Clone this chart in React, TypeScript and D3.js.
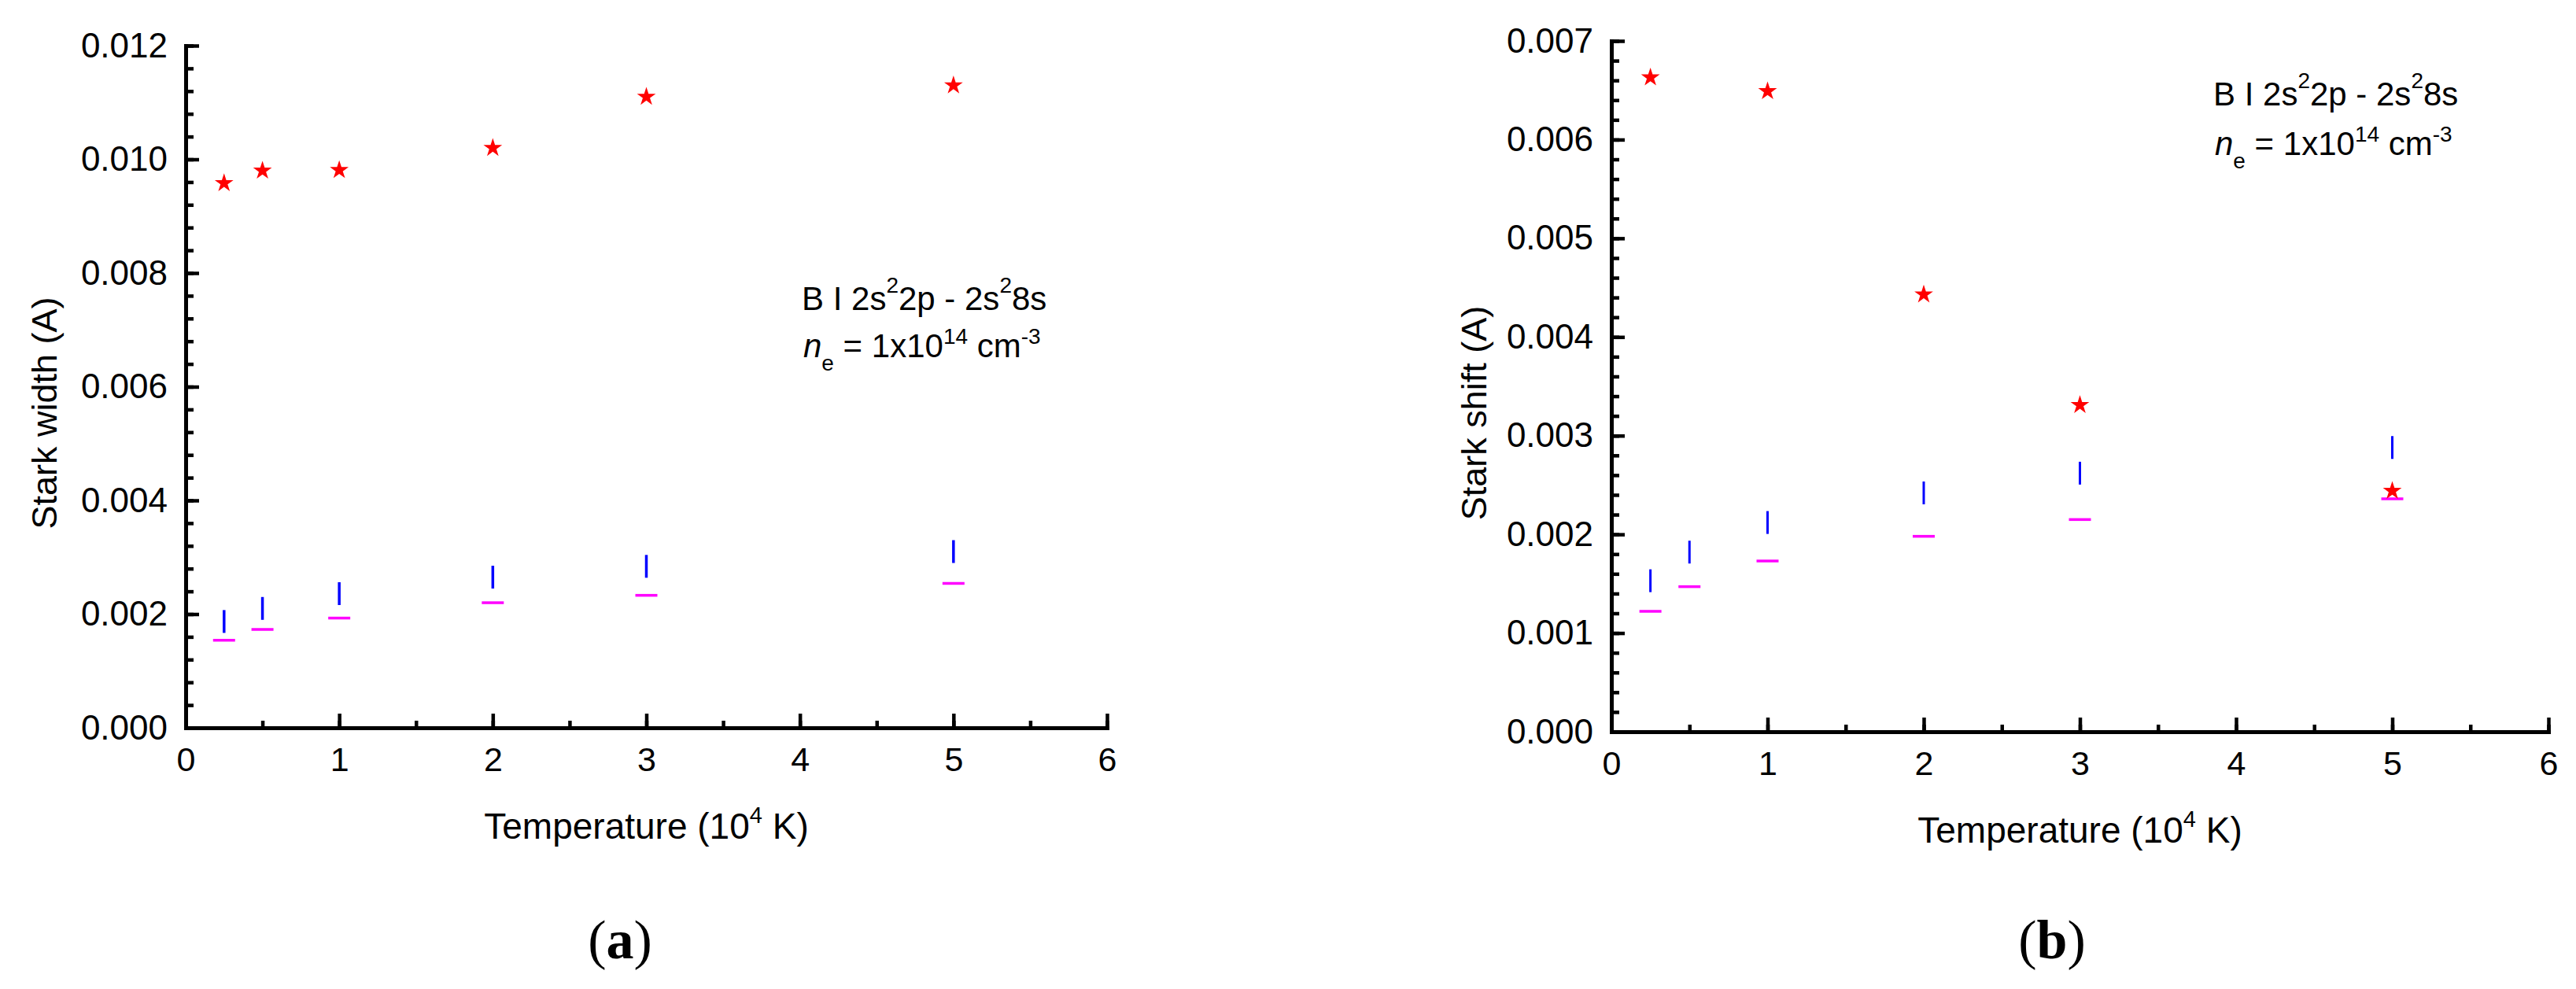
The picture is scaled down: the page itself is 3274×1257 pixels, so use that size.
import React, { useEffect, useRef } from 'react'
import * as d3 from 'd3'

// temperatures in 10^4 K
const temps = [0.25, 0.5, 1, 2, 3, 5]

// (a) Stark width (A)
const widthStars = [0.00958, 0.0098, 0.00981, 0.0102, 0.0111, 0.0113]
const widthBlue = [0.00187, 0.0021, 0.00236, 0.00265, 0.00284, 0.0031]
const widthMagenta = [0.00154, 0.00173, 0.00193, 0.0022, 0.00233, 0.00254]

// (b) Stark shift (A)
const shiftStarTemps = [0.25, 1, 2, 3, 5]
const shiftStars = [0.00663, 0.00649, 0.00443, 0.00331, 0.00244]
const shiftBlue = [0.00153, 0.00182, 0.00212, 0.00242, 0.00262, 0.00288]
const shiftMagenta = [0.00122, 0.00147, 0.00173, 0.00198, 0.00215, 0.00236]

const xTicks = [0, 1, 2, 3, 4, 5, 6]
const yTicksWidth = [0, 0.002, 0.004, 0.006, 0.008, 0.010, 0.012]
const yTicksShift = [0, 0.001, 0.002, 0.003, 0.004, 0.005, 0.006, 0.007]

const SANS = "'Liberation Sans', Arial, sans-serif"
const SERIF = "'Liberation Serif', 'Times New Roman', serif"

export default function App() {
    const svgRef = useRef<SVGSVGElement>(null)

    useEffect(() => {
        const svg = d3.select(svgRef.current)
        svg.selectAll("*").remove()

        const drawPanel = function (p: any) {
            const x = d3.scaleLinear().domain([0, 6]).range(p.xRange)
            const y = d3.scaleLinear().domain([0, p.yMax]).range(p.yRange)
            const g = svg.append("g")

            const x0 = p.xRange[0], yBase = p.yRange[0]

            // minor ticks
            const yMinor = d3.range(0, p.yMax + p.yMinorStep / 2, p.yMinorStep)
            const xMinor = d3.range(0, 6.01, 0.5)
            g.append("g").attr("transform", `translate(${x0},0)`)
                .call(d3.axisLeft(y).tickValues(yMinor).tickSize(-10).tickSizeOuter(0).tickFormat(() => ""))
                .call(a => a.select(".domain").remove())
                .selectAll("line").attr("stroke-width", 4.5)
            g.append("g").attr("transform", `translate(0,${yBase})`)
                .call(d3.axisBottom(x).tickValues(xMinor).tickSize(-9).tickSizeOuter(0).tickFormat(() => ""))
                .call(a => a.select(".domain").remove())
                .selectAll("line").attr("stroke-width", 4.5)

            // major ticks + labels
            const yAx = g.append("g").attr("transform", `translate(${x0},0)`)
                .call(d3.axisLeft(y).tickValues(p.yTicks).tickSize(-17).tickSizeOuter(0).tickPadding(23).tickFormat(d3.format(".3f")))
            yAx.selectAll("line").attr("stroke-width", 4.5)
            yAx.select(".domain").attr("stroke-width", 5).attr("stroke-linecap", "square")
            yAx.selectAll("text").style("font", `44px ${SANS}`).attr("fill", "black")

            const xAx = g.append("g").attr("transform", `translate(0,${yBase})`)
                .call(d3.axisBottom(x).tickValues(xTicks).tickSize(-18).tickSizeOuter(0).tickPadding(24).tickFormat(d3.format("d")))
            xAx.selectAll("line").attr("stroke-width", 4.5)
            xAx.select(".domain").attr("stroke-width", 5).attr("stroke-linecap", "square")
            xAx.selectAll("text").style("font", `43px ${SANS}`).attr("fill", "black")

            // markers
            g.selectAll(".mag").data(temps).enter().append("line")
                .attr("x1", d => x(d) - 14).attr("x2", d => x(d) + 14)
                .attr("y1", (d, i) => y(p.magenta[i])).attr("y2", (d, i) => y(p.magenta[i]))
                .attr("stroke", "#ff00ff").attr("stroke-width", 3.5)
            g.selectAll(".blue").data(temps).enter().append("line")
                .attr("x1", d => x(d)).attr("x2", d => x(d))
                .attr("y1", (d, i) => y(p.blue[i]) - 14.5).attr("y2", (d, i) => y(p.blue[i]) + 14.5)
                .attr("stroke", "#0000ff").attr("stroke-width", p.blueWidth)
            const star = d3.symbol().type(d3.symbolStar).size(175)
            g.selectAll(".star").data(p.starTemps).enter().append("path")
                .attr("d", star)
                .attr("transform", (d: any, i: number) => `translate(${x(d)},${y(p.stars[i])})`)
                .attr("fill", "#ff0000")

            // axis titles
            const xt = g.append("text").attr("x", (p.xRange[0] + p.xRange[1]) / 2).attr("y", p.xTitleY)
                .attr("text-anchor", "middle").style("font", `46px ${SANS}`)
            xt.append("tspan").text("Temperature (10")
            xt.append("tspan").attr("dy", -20).style("font-size", "29px").text("4")
            xt.append("tspan").attr("dy", 20).text(" K)")

            g.append("text").attr("transform", `translate(${p.yTitleX},525) rotate(-90)`)
                .attr("text-anchor", "middle").style("font", `45px ${SANS}`).text(p.yTitle)

            // annotation
            const l1 = g.append("text").attr("x", p.noteX).attr("y", p.noteY).style("font", `42px ${SANS}`)
            l1.append("tspan").text("B I 2s")
            l1.append("tspan").attr("dy", -22).style("font-size", "28px").text("2")
            l1.append("tspan").attr("dy", 22).text("2p - 2s")
            l1.append("tspan").attr("dy", -22).style("font-size", "28px").text("2")
            l1.append("tspan").attr("dy", 22).text("8s")

            const l2 = g.append("text").attr("x", p.noteX + 2).attr("y", p.noteY + p.noteGap).style("font", `42px ${SANS}`)
            l2.append("tspan").style("font-style", "italic").text("n")
            l2.append("tspan").attr("dy", 17).style("font-size", "28px").text("e")
            l2.append("tspan").attr("dy", -17).text(" = 1x10")
            l2.append("tspan").attr("dy", -17).style("font-size", "28px").text("14")
            l2.append("tspan").attr("dy", 17).text(" cm")
            l2.append("tspan").attr("dy", -17).style("font-size", "28px").text("-3")

            // panel label
            const lab = g.append("text").attr("x", p.labelX).attr("y", 1218)
                .attr("text-anchor", "middle").style("font", `70px ${SERIF}`)
            lab.append("tspan").text("(")
            lab.append("tspan").style("font-weight", "bold").text(p.label)
            lab.append("tspan").text(")")
        }

        drawPanel({
            xRange: [236, 1407], yRange: [925, 58], yMax: 0.012, yTicks: yTicksWidth, yMinorStep: 0.0004,
            stars: widthStars, starTemps: temps, blue: widthBlue, magenta: widthMagenta, blueWidth: 3.5,
            xTitleY: 1066, yTitleX: 72, yTitle: "Stark width (A)",
            noteX: 1019, noteY: 394, noteGap: 60, labelX: 788, label: "a"
        })
        drawPanel({
            xRange: [2048, 3239], yRange: [930, 52], yMax: 0.007, yTicks: yTicksShift, yMinorStep: 0.0002,
            stars: shiftStars, starTemps: shiftStarTemps, blue: shiftBlue, magenta: shiftMagenta, blueWidth: 3,
            xTitleY: 1071, yTitleX: 1889, yTitle: "Stark shift (A)",
            noteX: 2813, noteY: 134, noteGap: 63, labelX: 2608, label: "b"
        })
    }, [])

    return (
        <svg ref={svgRef} width={3274} height={1257}
            style={{ position: 'absolute', left: 0, top: 0, display: 'block', background: 'white' }} />
    )
}
